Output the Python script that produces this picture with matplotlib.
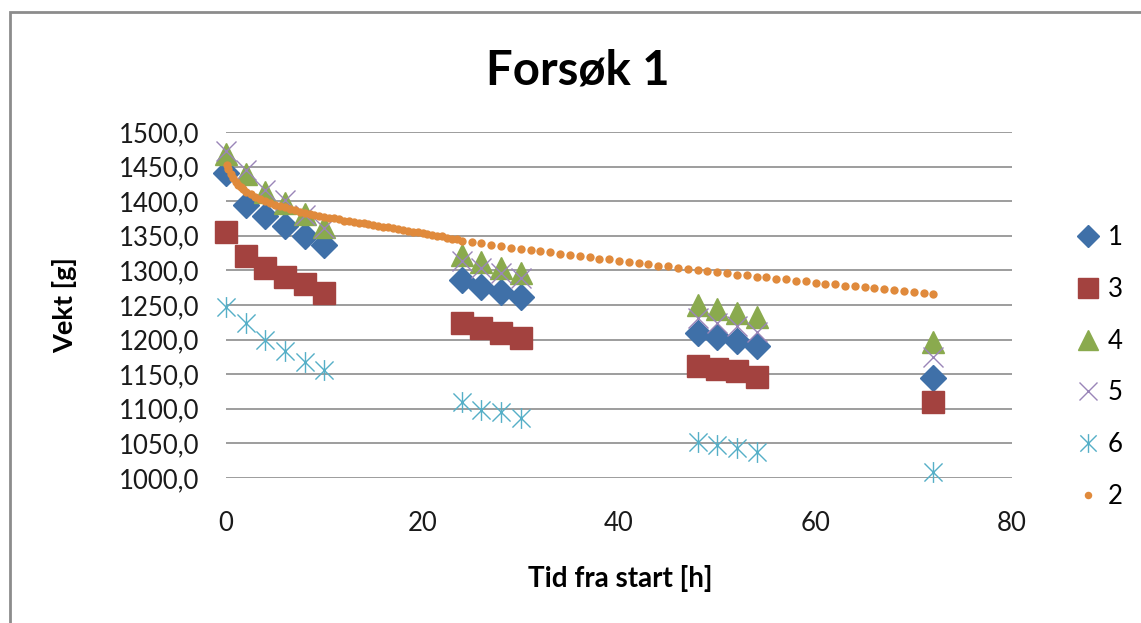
import matplotlib.pyplot as plt
from matplotlib.path import Path
from matplotlib.patches import Rectangle

plt.rcParams['font.family'] = ['Lato', 'DejaVu Sans']

# maalinger, tid i timer
t_meas = [0, 2, 4, 6, 8, 10, 24, 26, 28, 30, 48, 50, 52, 54, 72]

vekt1 = [1441, 1395, 1379, 1364, 1350, 1337,
         1286, 1276, 1269, 1262,
         1210, 1204, 1198, 1191, 1145]
vekt3 = [1356, 1321, 1304, 1291, 1280, 1267,
         1224, 1217, 1210, 1203,
         1162, 1158, 1154, 1146, 1110]
vekt4 = [1468, 1439, 1413, 1397, 1381, 1363,
         1322, 1312, 1303, 1296,
         1250, 1244, 1238, 1233, 1197]
vekt5 = [1472, 1445, 1416, 1402, 1380, 1361,
         1313, 1303, 1296, 1289,
         1231, 1224, 1219, 1211, 1175]
vekt6 = [1247, 1224, 1200, 1184, 1168, 1156,
         1110, 1098, 1095, 1087,
         1052, 1048, 1043, 1038, 1009]

# logget vekt for prove 2
t2 = [0.1, 0.25, 0.5, 0.75, 1.0, 1.25, 1.5, 1.75, 2.0, 2.5, 3.0, 3.5, 4.0,
      4.5, 5.0, 5.5, 6.0, 6.5, 7.0, 7.5, 8.0, 8.5, 9.0, 9.5, 10.0, 10.5,
      11.0, 11.5, 12.0, 12.5, 13.0, 13.5, 14.0, 14.5, 15.0, 15.5, 16.0,
      16.5, 17.0, 17.5, 18.0, 18.5, 19.0, 19.5, 20.0, 20.5, 21.0, 21.5,
      22.0, 22.5, 23.0, 23.5, 24.0,
      25, 26, 27, 28, 29, 30, 31, 32, 33, 34, 35, 36, 37, 38, 39, 40, 41,
      42, 43, 44, 45, 46, 47, 48, 49, 50, 51, 52, 53, 54, 55, 56, 57, 58,
      59, 60, 61, 62, 63, 64, 65, 66, 67, 68, 69, 70, 71, 72]
vekt2 = [1452, 1446, 1439, 1433, 1428, 1424, 1420, 1417, 1414, 1410, 1406,
         1403, 1400, 1397, 1395, 1393, 1391, 1389, 1387, 1385, 1383, 1381,
         1380, 1378, 1377, 1376, 1375, 1374, 1372, 1371, 1370, 1369, 1368,
         1367, 1365, 1364, 1363, 1362, 1361, 1360, 1358, 1357, 1356, 1355,
         1354, 1352, 1351, 1350, 1349, 1347, 1346, 1345, 1343,
         1341, 1339, 1337, 1335, 1333, 1331, 1329, 1328, 1326, 1324, 1322,
         1321, 1319, 1317, 1316, 1314, 1312, 1311, 1309, 1307, 1306, 1304,
         1302, 1301, 1299, 1298, 1296, 1294, 1293, 1291, 1290, 1288, 1287,
         1285, 1284, 1282, 1281, 1280, 1278, 1277, 1276, 1274, 1273, 1272,
         1270, 1269, 1268, 1266]

x_ticks = [0, 20, 40, 60, 80]
y_ticks = [1000, 1050, 1100, 1150, 1200, 1250, 1300, 1350, 1400, 1450, 1500]

# stjerne-markor (x med loddrett strek)
star = Path([(-1, -1), (1, 1), (-1, 1), (1, -1), (0, -1.15), (0, 1.15)],
            [Path.MOVETO, Path.LINETO, Path.MOVETO, Path.LINETO,
             Path.MOVETO, Path.LINETO])

fig = plt.figure(figsize=(11.41, 6.23), dpi=100)
fig.patches.append(Rectangle((10 / 1141, -0.1), 1.2, 1 - 12 / 623 + 0.1,
                             transform=fig.transFigure, fill=False,
                             edgecolor='#8c8c8c', linewidth=2))

ax = fig.add_axes([226 / 1141, 1 - 478 / 623, (1012 - 226) / 1141, (478 - 132) / 623])

ax.plot(t_meas, vekt1, 'D', color='#3f70a8', ms=13, mec='#3f70a8', label='1', clip_on=False)
ax.plot(t_meas, vekt3, 's', color='#a3423f', ms=16, mec='#a3423f', label='3', clip_on=False)
ax.plot(t_meas, vekt4, '^', color='#8aaa4e', ms=16, mec='#8aaa4e', label='4', clip_on=False)
ax.plot(t_meas, vekt5, 'x', color='#9a85b8', ms=14, mew=1.0, label='5', clip_on=False)
ax.plot(t_meas, vekt6, marker=star, ls='none', color='#55afc7', ms=15, mew=1.0,
        label='6', clip_on=False)
ax.plot(t2, vekt2, 'o', color='#e08a3c', ms=6, mew=0, label='2', clip_on=False)

ax.set_xlim(0, 80)
ax.set_ylim(1000, 1500)
ax.set_xticks(x_ticks)
ax.set_xticklabels([str(v) for v in x_ticks])
ax.set_yticks(y_ticks)
ax.set_yticklabels([f'{v:.1f}'.replace('.', ',') for v in y_ticks])
ax.tick_params(axis='both', length=0, labelsize=18.5, colors='#1a1a1a')
ax.tick_params(axis='x', pad=24)
ax.tick_params(axis='y', pad=19)
for s in ax.spines.values():
    s.set_visible(False)
ax.grid(axis='y', color='#8c8c8c', linewidth=1.2)
ax.set_axisbelow(True)

fig.text(578 / 1141, 1 - 70 / 623, 'Forsøk 1', ha='center', va='center',
         fontsize=34, fontweight='bold')
fig.text(65 / 1141, 1 - 305 / 623, 'Vekt [g]', ha='center', va='center',
         rotation=90, fontsize=19.5, fontweight='bold')
fig.text(620 / 1141, 1 - 578 / 623, 'Tid fra start [h]', ha='center', va='center',
         fontsize=20, fontweight='bold')

fig.legend(loc='center left', bbox_to_anchor=(1064 / 1141, 1 - 367 / 623),
           frameon=False, fontsize=18.5, labelspacing=1.05, handlelength=0.9,
           handletextpad=0.3, borderpad=0, markerscale=0.9)

fig.savefig('out.png', dpi=100)
